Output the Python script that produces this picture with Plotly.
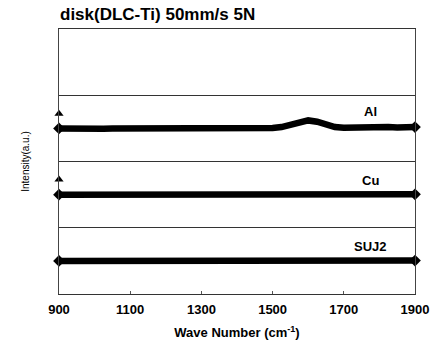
import plotly.graph_objects as go

wave = [900, 925, 950, 975, 1000, 1025, 1050, 1075, 1100, 1125, 1150, 1175, 1200, 1225, 1250,
        1275, 1300, 1325, 1350, 1375, 1400, 1425, 1450, 1475, 1500, 1525, 1550, 1575, 1600,
        1625, 1650, 1675, 1700, 1725, 1750, 1775, 1800, 1825, 1850, 1875, 1900]

al = [2.50, 2.495, 2.50, 2.495, 2.50, 2.495, 2.50, 2.50, 2.495, 2.50, 2.505, 2.50, 2.50, 2.505, 2.505,
      2.50, 2.505, 2.50, 2.505, 2.505, 2.50, 2.505, 2.505, 2.505, 2.505, 2.52, 2.55, 2.60, 2.62,
      2.60, 2.55, 2.52, 2.51, 2.515, 2.51, 2.515, 2.515, 2.52, 2.515, 2.52, 2.52]

cu = [1.50, 1.50, 1.50, 1.50, 1.505, 1.50, 1.50, 1.505, 1.50, 1.50, 1.505, 1.505, 1.50, 1.505, 1.505,
      1.505, 1.505, 1.505, 1.50, 1.505, 1.505, 1.505, 1.50, 1.505, 1.505, 1.505, 1.505, 1.505, 1.505,
      1.505, 1.505, 1.505, 1.505, 1.505, 1.505, 1.505, 1.505, 1.505, 1.505, 1.505, 1.505]

suj2 = [0.50, 0.50, 0.50, 0.50, 0.50, 0.50, 0.50, 0.50, 0.50, 0.50, 0.50, 0.50, 0.50, 0.50, 0.50,
        0.50, 0.50, 0.50, 0.50, 0.50, 0.50, 0.50, 0.50, 0.50, 0.505, 0.505, 0.505, 0.505, 0.505,
        0.505, 0.505, 0.505, 0.505, 0.505, 0.505, 0.505, 0.505, 0.505, 0.505, 0.505, 0.505]

tri_x = [900, 900]
tri_y = [2.72, 1.73]

labels = ["Al", "Cu", "SUJ2"]
label_y = [2.75, 1.71, 0.71]
label_x = 1776

FONT = "Liberation Sans, Arial"

fig = go.Figure()
for ys in (al, cu, suj2):
    fig.add_trace(go.Scatter(x=wave, y=ys, mode="lines",
                             line=dict(color="black", width=6.5),
                             showlegend=False, cliponaxis=False))
    fig.add_trace(go.Scatter(x=[wave[0], wave[-1]], y=[ys[0], ys[-1]], mode="markers",
                             marker=dict(symbol="diamond", size=9, color="black"),
                             showlegend=False, cliponaxis=False))
fig.add_trace(go.Scatter(x=tri_x, y=tri_y, mode="markers",
                         marker=dict(symbol="triangle-up", size=8, color="black"),
                         showlegend=False, cliponaxis=False))

for t, yy in zip(labels, label_y):
    fig.add_annotation(x=label_x, y=yy, text="<b>" + t + "</b>", showarrow=False,
                       xanchor="center", yanchor="middle",
                       font=dict(family=FONT, size=13, color="black"))

fig.update_layout(
    width=435, height=347,
    margin=dict(l=59, r=20, t=29, b=53),
    paper_bgcolor="white", plot_bgcolor="white",
    title=dict(text="<b>disk(DLC-Ti) 50mm/s 5N</b>", x=60/435, xanchor="left", y=1-14/347, yanchor="middle",
               font=dict(family=FONT, size=17, color="black")),
    xaxis=dict(range=[900, 1900], tickvals=[900, 1100, 1300, 1500, 1700, 1900],
               ticks="inside", ticklen=3, tickcolor="#555", ticklabelstandoff=3,
               showgrid=False, zeroline=False, showline=True, linecolor="#333", linewidth=1, mirror=True,
               automargin=False,
               tickfont=dict(family=FONT, size=13, color="black", weight="bold"),
               title=dict(text="<b>Wave Number (cm<sup>-1</sup>)</b>", standoff=12,
                          font=dict(family=FONT, size=13, color="black"))),
    yaxis=dict(range=[0, 4], tickvals=[1, 2, 3], showticklabels=False, ticks="",
               showgrid=True, gridcolor="#333", gridwidth=1, zeroline=False,
               showline=True, linecolor="#444", linewidth=1, mirror=True,
               automargin=False,
               title=dict(text="Intensity(a.u.)", standoff=26,
                          font=dict(family=FONT, size=10, color="black"))),
    font=dict(family=FONT, color="black"),
)

fig.write_html("out.html")
